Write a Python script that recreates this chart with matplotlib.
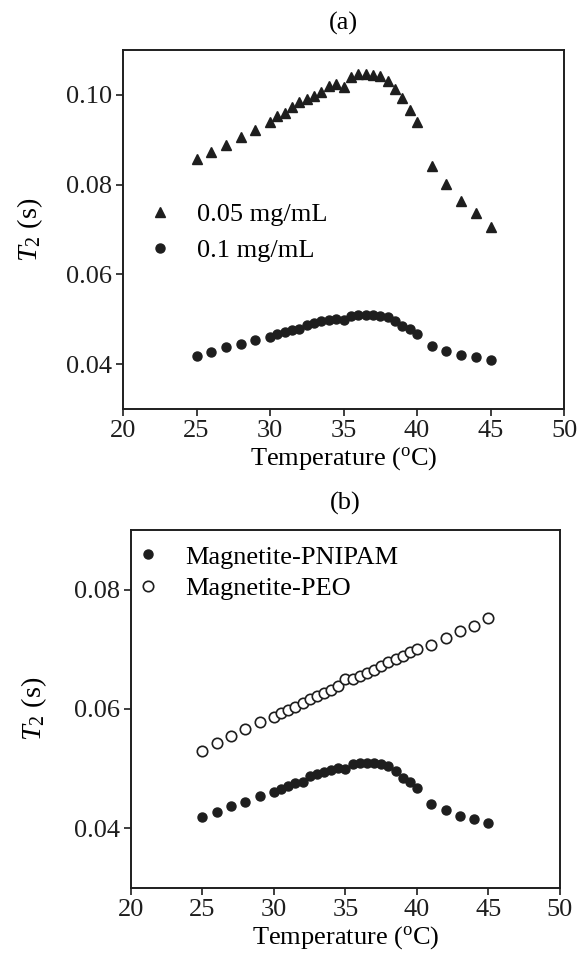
import numpy as np
import matplotlib
matplotlib.use('Agg')
import matplotlib.pyplot as plt

plt.rcParams['font.family'] = ['Liberation Serif', 'DejaVu Serif']
plt.rcParams['mathtext.fontset'] = 'custom'
plt.rcParams['mathtext.rm'] = 'Liberation Serif'
plt.rcParams['mathtext.it'] = 'Liberation Serif:italic'

temp = [25, 26, 27, 28, 29, 30, 30.5, 31, 31.5, 32, 32.5, 33, 33.5, 34, 34.5,
        35, 35.5, 36, 36.5, 37, 37.5, 38, 38.5, 39, 39.5, 40, 41, 42, 43, 44, 45]

t2_005 = [0.0856, 0.0872, 0.0889, 0.0905, 0.0922, 0.0939, 0.0954, 0.0959, 0.0974,
          0.0983, 0.0990, 0.0998, 0.1007, 0.1019, 0.1024, 0.1017, 0.1039, 0.1046,
          0.1047, 0.1045, 0.1041, 0.1030, 0.1013, 0.0994, 0.0967, 0.0939, 0.0841,
          0.0801, 0.0764, 0.0737, 0.0706]

t2_01 = [0.0419, 0.0428, 0.0437, 0.0444, 0.0454, 0.0461, 0.0466, 0.0471, 0.0476,
         0.0478, 0.0487, 0.0491, 0.0495, 0.0498, 0.0501, 0.0499, 0.0507, 0.0509,
         0.0510, 0.0510, 0.0507, 0.0504, 0.0496, 0.0485, 0.0478, 0.0467, 0.0441,
         0.0430, 0.0421, 0.0415, 0.0409]

t2_peo = [0.0530, 0.0543, 0.0555, 0.0566, 0.0578, 0.0587, 0.0593, 0.0599, 0.0604,
          0.0610, 0.0616, 0.0621, 0.0627, 0.0632, 0.0639, 0.0650, 0.0650, 0.0656,
          0.0661, 0.0666, 0.0672, 0.0679, 0.0684, 0.0689, 0.0695, 0.0700, 0.0708,
          0.0719, 0.0730, 0.0739, 0.0753]

ink = '#1e1e1e'
fs = 19

fig = plt.figure(figsize=(5.78, 9.65), dpi=100)
ax1 = fig.add_axes([0.2128, 0.5762, 0.763, 0.372])
ax2 = fig.add_axes([0.2266, 0.0798, 0.7422, 0.371])

ax1.plot(temp, t2_005, '^', color=ink, ms=7.5, mec=ink, label='0.05 mg/mL')
ax1.plot(temp, t2_01, 'o', color=ink, ms=6.5, mec=ink, label='0.1 mg/mL')
ax1.set_ylim(0.03, 0.11)
ax1.set_yticks([0.04, 0.06, 0.08, 0.10])
ax1.set_yticklabels(['0.04', '0.06', '0.08', '0.10'])
ax1.set_title('(a)', fontsize=fs, pad=15)
ax1.legend(loc='center left', bbox_to_anchor=(0.054, 0.4916), frameon=False,
           fontsize=fs, handlelength=1.0, handletextpad=0.9, labelspacing=0.47,
           borderaxespad=0, borderpad=0)
ax1.set_ylabel('$T_2$ (s)', fontsize=20.5, labelpad=15)

ax2.plot(temp, t2_01, 'o', color=ink, ms=6.5, mec=ink, label='Magnetite-PNIPAM')
ax2.plot(temp, t2_peo, 'o', mfc='white', mec=ink, ms=7.5, mew=1.2, label='Magnetite-PEO')
ax2.set_ylim(0.03, 0.09)
ax2.set_yticks([0.04, 0.06, 0.08])
ax2.set_yticklabels(['0.04', '0.06', '0.08'])
ax2.set_title('(b)', fontsize=fs, pad=15)
ax2.legend(loc='center left', bbox_to_anchor=(0.009, 0.881), frameon=False,
           fontsize=fs, handlelength=1.0, handletextpad=0.9, labelspacing=0.3,
           borderaxespad=0, borderpad=0)
ax2.set_ylabel('$T_2$ (s)', fontsize=20.5, labelpad=18)

for ax in (ax1, ax2):
    ax.set_xlim(20, 50)
    ax.set_xticks([20, 25, 30, 35, 40, 45, 50])
    ax.set_xlabel('Temperature ($^\\mathrm{o}$C)', fontsize=fs, labelpad=2)
    ax.tick_params(direction='out', length=5, width=1.2, labelsize=fs, colors=ink, pad=3)
    for sp in ax.spines.values():
        sp.set_linewidth(1.4)
        sp.set_color(ink)

fig.savefig('out.png', dpi=100)
